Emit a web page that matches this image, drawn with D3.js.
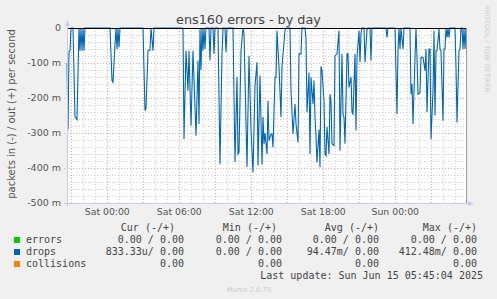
<!DOCTYPE html>
<html>
<head>
<meta charset="utf-8">
<script src="https://cdn.jsdelivr.net/npm/d3@7"></script>
<style>
  body { margin: 0; background: #f0f0f0; }
  svg { display: block; }
</style>
</head>
<body>
<div id="chart"></div>
<script>
// Values read off the munin "ens160 errors - by day" graph
// drops (in), in milli-packets/s, by 5-minute step from the graph start
const dropStep = [
  0, 1, 2, 3, 4, 6, 8, 10, 12, 13,
  14, 15, 16, 17, 18, 43, 45, 46, 48, 49,
  50, 51, 52, 53, 76, 78, 79, 81, 83, 84,
  86, 87, 115, 116, 117, 119, 121, 122, 124, 126,
  129, 131, 132, 133, 134, 135, 136, 137, 138, 139,
  142, 143, 144, 146, 147, 148, 151, 153, 155, 156,
  158, 159, 160, 166, 168, 170, 171, 172, 174, 176,
  177, 180, 182, 184, 186, 188, 190, 191, 193, 195,
  196, 197, 198, 200, 201, 202, 204, 205, 206, 208,
  209, 210, 212, 214, 215, 216, 218, 219, 223, 224,
  226, 228, 229, 231, 232, 234, 235, 238, 239, 240,
  242, 243, 244, 246, 247, 248, 249, 250, 252, 253,
  254, 255, 257, 258, 259, 260, 262, 263, 264, 265,
  267, 268, 270, 272, 273, 275, 276, 277, 278, 280,
  281, 282, 284, 285, 286, 288, 289, 290, 292, 293,
  294, 295, 297, 298, 300, 301, 303, 304, 305, 319,
  320, 321, 328, 330, 331, 332, 333, 334, 336, 337,
  343, 344, 345, 346, 348, 349, 350, 351, 353, 354,
  356, 358, 359, 360, 362, 363, 364, 366, 367, 368,
  369, 370, 372, 373, 374, 376, 377, 378, 379, 380,
  381, 382, 383, 388, 389, 390, 392, 393, 394, 395,
  396, 397, 398, 399
];
const dropIn = [
  100, 290, 68, 65, 0, 0, 254, 262, 0, 65,
  0, 65, 0, 65, 0, 0, 150, 155, 46, 0,
  60, 0, 55, 0, 0, 236, 230, 65, 63, 0,
  65, 0, 0, 5, 317, 65, 179, 65, 279, 65,
  308, 93, 274, 0, 120, 0, 65, 0, 60, 0,
  0, 93, 0, 0, 74, 0, 0, 389, 74, 0,
  0, 69, 0, 0, 383, 140, 360, 355, 65, 0,
  15, 397, 79, 290, 412, 165, 98, 393, 136, 390,
  254, 331, 300, 360, 208, 322, 303, 303, 341, 141,
  141, 8, 111, 254, 111, 74, 8, 0, 0, 179,
  303, 217, 274, 327, 74, 74, 0, 0, 30, 241,
  127, 360, 141, 217, 150, 255, 312, 384, 290, 398,
  110, 122, 208, 360, 365, 282, 360, 189, 211, 331,
  336, 79, 74, 8, 350, 74, 246, 255, 331, 74,
  74, 170, 140, 241, 246, 74, 293, 84, 8, 98,
  15, 0, 0, 98, 5, 0, 0, 93, 0, 0,
  27, 0, 0, 246, 65, 0, 60, 0, 60, 0,
  0, 189, 160, 274, 84, 0, 84, 189, 185, 84,
  84, 122, 60, 241, 60, 60, 317, 179, 8, 250,
  65, 65, 3, 60, 65, 265, 60, 60, 0, 27,
  0, 27, 0, 0, 110, 270, 65, 60, 0, 0,
  60, 0, 60, 1
];

const yTicks = [0, -100, -200, -300, -400, -500];

const legendNames = ["errors", "drops", "collisions"];
const legendColors = ["#00cc00", "#0066b3", "#ff8000"];
const legendHeaders = ["Cur (-/+)", "Min (-/+)", "Avg (-/+)", "Max (-/+)"];
const curValues = ["0.00 / 0.00", "833.33u/ 0.00", "0.00"];
const minValues = ["0.00 / 0.00", "0.00 / 0.00", "0.00"];
const avgValues = ["0.00 / 0.00", "94.47m/ 0.00", "0.00"];
const maxValues = ["0.00 / 0.00", "412.48m/ 0.00", "0.00"];

const width = 497, height = 299;
const plot = { left: 67, top: 28, right: 466, bottom: 203 };
const stepMs = 5 * 60 * 1000;
const t0 = Date.UTC(2025, 5, 13, 20, 38, 30);
const t1 = t0 + 399 * stepMs;

const svg = d3.select("#chart")
  .append("svg")
  .attr("width", width)
  .attr("height", height);

svg.append("rect")
  .attr("width", width)
  .attr("height", height)
  .attr("fill", "#f0f0f0");

svg.append("rect")
  .attr("x", plot.left)
  .attr("y", plot.top)
  .attr("width", plot.right - plot.left)
  .attr("height", plot.bottom - plot.top)
  .attr("fill", "#ffffff");

const x = d3.scaleUtc().domain([t0, t1]).range([plot.left, plot.right]);
const y = d3.scaleLinear().domain([-500, 0]).range([plot.bottom, plot.top]);

// grid
const grid = svg.append("g").attr("shape-rendering", "crispEdges");

const minorY = d3.range(-500, 1, 20).filter((v) => v % 100 !== 0);
grid.selectAll(".hminor")
  .data(minorY)
  .enter()
  .append("line")
  .attr("x1", plot.left)
  .attr("x2", plot.right)
  .attr("y1", (d) => Math.round(y(d)) + 0.5)
  .attr("y2", (d) => Math.round(y(d)) + 0.5)
  .attr("stroke", "#d4d4d4")
  .attr("stroke-dasharray", "1,2");

const hours = d3.utcHour.range(d3.utcHour.ceil(t0), t1);
grid.selectAll(".vminor")
  .data(hours.filter((d) => d.getUTCHours() % 3 !== 0))
  .enter()
  .append("line")
  .attr("x1", (d) => Math.round(x(d)) + 0.5)
  .attr("x2", (d) => Math.round(x(d)) + 0.5)
  .attr("y1", plot.top)
  .attr("y2", plot.bottom)
  .attr("stroke", "#d4d4d4")
  .attr("stroke-dasharray", "1,2");

grid.selectAll(".hmajor")
  .data(yTicks.slice(1))
  .enter()
  .append("line")
  .attr("x1", plot.left - 3)
  .attr("x2", plot.right + 2)
  .attr("y1", (d) => Math.round(y(d)) + 0.5)
  .attr("y2", (d) => Math.round(y(d)) + 0.5)
  .attr("stroke", "#e8a8a8")
  .attr("stroke-dasharray", "1,2");

grid.selectAll(".vmajor")
  .data(hours.filter((d) => d.getUTCHours() % 3 === 0))
  .enter()
  .append("line")
  .attr("x1", (d) => Math.round(x(d)) + 0.5)
  .attr("x2", (d) => Math.round(x(d)) + 0.5)
  .attr("y1", plot.top)
  .attr("y2", plot.bottom + 2)
  .attr("stroke", "#e8a8a8")
  .attr("stroke-dasharray", "1,2");

// series
const drops = dropStep.map((s, i) => ({ t: t0 + s * stepMs, v: -dropIn[i] }));
const line = d3.line()
  .x((d) => x(d.t))
  .y((d) => y(d.v));

svg.append("path")
  .datum(drops)
  .attr("d", line)
  .attr("fill", "none")
  .attr("stroke", "#0066b3")
  .attr("stroke-width", 1.1);

// zero line (errors / collisions sit here)
svg.append("line")
  .attr("x1", plot.left)
  .attr("x2", plot.right)
  .attr("y1", y(0) + 0.5)
  .attr("y2", y(0) + 0.5)
  .attr("stroke", "#000000")
  .attr("shape-rendering", "crispEdges");

// axes
const axisColor = "#c8cdf0";
svg.append("line")
  .attr("x1", plot.left + 0.5)
  .attr("x2", plot.left + 0.5)
  .attr("y1", plot.bottom + 3)
  .attr("y2", plot.top - 6)
  .attr("stroke", axisColor)
  .attr("shape-rendering", "crispEdges");
svg.append("path")
  .attr("d", `M${plot.left - 2},${plot.top - 2} L${plot.left + 0.5},${plot.top - 8} L${plot.left + 3},${plot.top - 2} Z`)
  .attr("fill", axisColor);

svg.append("line")
  .attr("x1", plot.left - 3)
  .attr("x2", plot.right + 6)
  .attr("y1", plot.bottom + 0.5)
  .attr("y2", plot.bottom + 0.5)
  .attr("stroke", axisColor)
  .attr("shape-rendering", "crispEdges");
svg.append("path")
  .attr("d", `M${plot.right + 2},${plot.bottom - 2} L${plot.right + 8},${plot.bottom + 0.5} L${plot.right + 2},${plot.bottom + 3} Z`)
  .attr("fill", axisColor);

svg.append("line")
  .attr("x1", plot.right + 0.5)
  .attr("x2", plot.right + 0.5)
  .attr("y1", plot.top)
  .attr("y2", plot.bottom)
  .attr("stroke", "#999999")
  .attr("shape-rendering", "crispEdges");

// tick labels
svg.selectAll(".ylabel")
  .data(yTicks)
  .enter()
  .append("text")
  .attr("x", 61)
  .attr("y", (d) => y(d))
  .attr("dy", "0.36em")
  .attr("text-anchor", "end")
  .style("font-family", "DejaVu Sans")
  .style("font-size", "9.5px")
  .style("fill", "#555555")
  .text((d) => (d === 0 ? "0" : `${d} m`));

const fmt = d3.utcFormat("%a %H:%M");
svg.selectAll(".xlabel")
  .data(x.ticks(d3.utcHour.every(6)))
  .enter()
  .append("text")
  .attr("x", (d) => x(d))
  .attr("y", 215)
  .attr("text-anchor", "middle")
  .style("font-family", "DejaVu Sans")
  .style("font-size", "9.3px")
  .style("fill", "#555555")
  .text(fmt);

// titles
svg.append("text")
  .attr("x", width / 2)
  .attr("y", 24)
  .attr("text-anchor", "middle")
  .style("font-family", "DejaVu Sans")
  .style("font-size", "12.8px")
  .style("fill", "#444444")
  .text("ens160 errors - by day");

svg.append("text")
  .attr("transform", "translate(14.5, 114) rotate(-90)")
  .attr("text-anchor", "middle")
  .style("font-family", "DejaVu Sans")
  .style("font-size", "10px")
  .style("fill", "#555555")
  .text("packets in (-) / out (+) per second");

svg.append("text")
  .attr("transform", "translate(485, 5) rotate(90)")
  .attr("text-anchor", "start")
  .style("font-family", "DejaVu Sans")
  .style("font-size", "6.8px")
  .style("fill", "#cccccc")
  .text("RRDTOOL / TOBI OETIKER");

// legend
const mono = { "font-family": "DejaVu Sans Mono", "font-size": "10px", fill: "#444444" };
const monoText = (sel) => {
  Object.entries(mono).forEach(([k, v]) => sel.style(k, v));
  return sel;
};

const headerEnds = [175, 277, 379, 477];
legendHeaders.forEach((h, i) => {
  svg.append("text")
    .attr("x", headerEnds[i])
    .attr("y", 231)
    .attr("text-anchor", "end")
    .call(monoText)
    .text(h);
});

const columns = [curValues, minValues, avgValues, maxValues];
const valueEnds = [184, 282, 379, 477];
legendNames.forEach((name, r) => {
  const yy = 243 + r * 12;
  svg.append("rect")
    .attr("x", 14)
    .attr("y", yy - 6)
    .attr("width", 6)
    .attr("height", 6)
    .attr("fill", legendColors[r]);
  svg.append("text")
    .attr("x", 26)
    .attr("y", yy)
    .attr("xml:space", "preserve")
    .call(monoText)
    .text(name);
  columns.forEach((col, c) => {
    svg.append("text")
      .attr("x", valueEnds[c])
      .attr("y", yy)
      .attr("text-anchor", "end")
      .attr("xml:space", "preserve")
      .call(monoText)
      .text(col[r]);
  });
});

svg.append("text")
  .attr("x", 483)
  .attr("y", 279)
  .attr("text-anchor", "end")
  .call(monoText)
  .text("Last update: Sun Jun 15 05:45:04 2025");

svg.append("text")
  .attr("x", 249)
  .attr("y", 292)
  .attr("text-anchor", "middle")
  .style("font-family", "DejaVu Sans")
  .style("font-size", "6.8px")
  .style("fill", "#cccccc")
  .text("Munin 2.0.75");
</script>
</body>
</html>
